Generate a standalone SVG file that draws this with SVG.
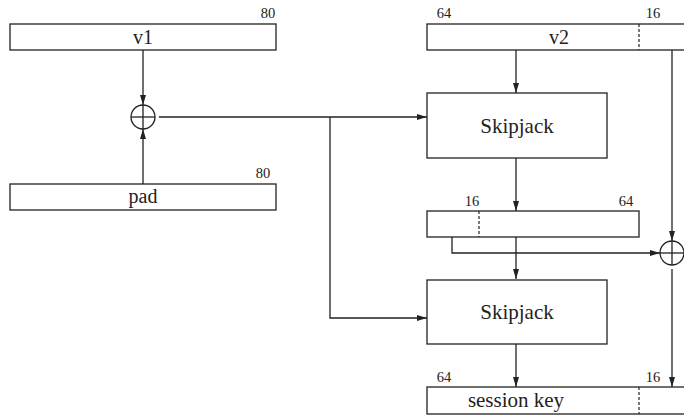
<svg xmlns="http://www.w3.org/2000/svg" width="684" height="416" viewBox="0 0 684 416">
<style>
.box{fill:#fff;stroke:#222;stroke-width:1.3}
.ln{fill:none;stroke:#222;stroke-width:1.3}
.dash{stroke:#222;stroke-width:1.2;stroke-dasharray:3,2}
.lbl{font-family:"Liberation Serif",serif;font-size:20px;fill:#222;text-anchor:middle}
.big{font-family:"Liberation Serif",serif;font-size:21px;fill:#222;text-anchor:middle}
.num{font-family:"Liberation Serif",serif;font-size:14.5px;fill:#222;text-anchor:middle}
</style>
<defs>
<marker id="ar" viewBox="0 0 10 6" refX="10" refY="3" markerWidth="10" markerHeight="6" markerUnits="userSpaceOnUse" orient="auto">
<path d="M0,0 L10,3 L0,6 Z" fill="#222"/>
</marker>
</defs>
<rect width="684" height="416" fill="#fff"/>
<g id="connectors">
<line class="ln" x1="143" y1="50" x2="143" y2="105" marker-end="url(#ar)"/>
<line class="ln" x1="143" y1="184" x2="143" y2="129" marker-end="url(#ar)"/>
<line class="ln" x1="159" y1="117" x2="427" y2="117" marker-end="url(#ar)"/>
<polyline class="ln" points="330,117 330,318 427,318" marker-end="url(#ar)"/>
<line class="ln" x1="516" y1="50" x2="516" y2="93" marker-end="url(#ar)"/>
<line class="ln" x1="516" y1="158" x2="516" y2="211" marker-end="url(#ar)"/>
<line class="ln" x1="516" y1="237" x2="516" y2="279" marker-end="url(#ar)"/>
<line class="ln" x1="516" y1="344" x2="516" y2="387" marker-end="url(#ar)"/>
<polyline class="ln" points="452,237 452,253 660,253" marker-end="url(#ar)"/>
<line class="ln" x1="672" y1="50" x2="672" y2="241" marker-end="url(#ar)"/>
<line class="ln" x1="672" y1="269" x2="672" y2="387" marker-end="url(#ar)"/>
</g>
<g id="v1">
<rect class="box" x="10" y="24" width="266" height="26"/>
<text class="lbl" x="143" y="44">v1</text>
<text class="num" x="268" y="18">80</text>
</g>
<g id="xor1">
<circle class="ln" cx="143" cy="117" r="12"/>
<line class="ln" x1="131" y1="117" x2="155" y2="117"/>
<line class="ln" x1="143" y1="105" x2="143" y2="129"/>
</g>
<g id="pad">
<rect class="box" x="10" y="184" width="266" height="26"/>
<text class="lbl" x="143" y="203">pad</text>
<text class="num" x="263" y="178">80</text>
</g>
<g id="v2">
<rect class="box" x="427" y="24" width="264" height="26"/>
<line class="dash" x1="639" y1="24" x2="639" y2="50"/>
<text class="lbl" x="559" y="44">v2</text>
<text class="num" x="444" y="18">64</text>
<text class="num" x="653" y="18">16</text>
</g>
<g id="skipjack1">
<rect class="box" x="427" y="93" width="180" height="65"/>
<text class="big" x="517" y="133">Skipjack</text>
</g>
<g id="mid">
<rect class="box" x="427" y="211" width="212" height="26"/>
<line class="dash" x1="479" y1="211" x2="479" y2="237"/>
<text class="num" x="472" y="206">16</text>
<text class="num" x="626" y="206">64</text>
</g>
<g id="xor2">
<circle class="ln" cx="672" cy="253" r="12"/>
<line class="ln" x1="660" y1="253" x2="684" y2="253"/>
<line class="ln" x1="672" y1="241" x2="672" y2="265"/>
</g>
<g id="skipjack2">
<rect class="box" x="427" y="280" width="180" height="64"/>
<text class="big" x="517" y="319">Skipjack</text>
</g>
<g id="sessionkey">
<rect class="box" x="427" y="387" width="264" height="27"/>
<line class="dash" x1="639" y1="387" x2="639" y2="414"/>
<text class="lbl" x="516" y="407" style="font-size:21px">session key</text>
<text class="num" x="444" y="382">64</text>
<text class="num" x="653" y="382">16</text>
</g>
</svg>
